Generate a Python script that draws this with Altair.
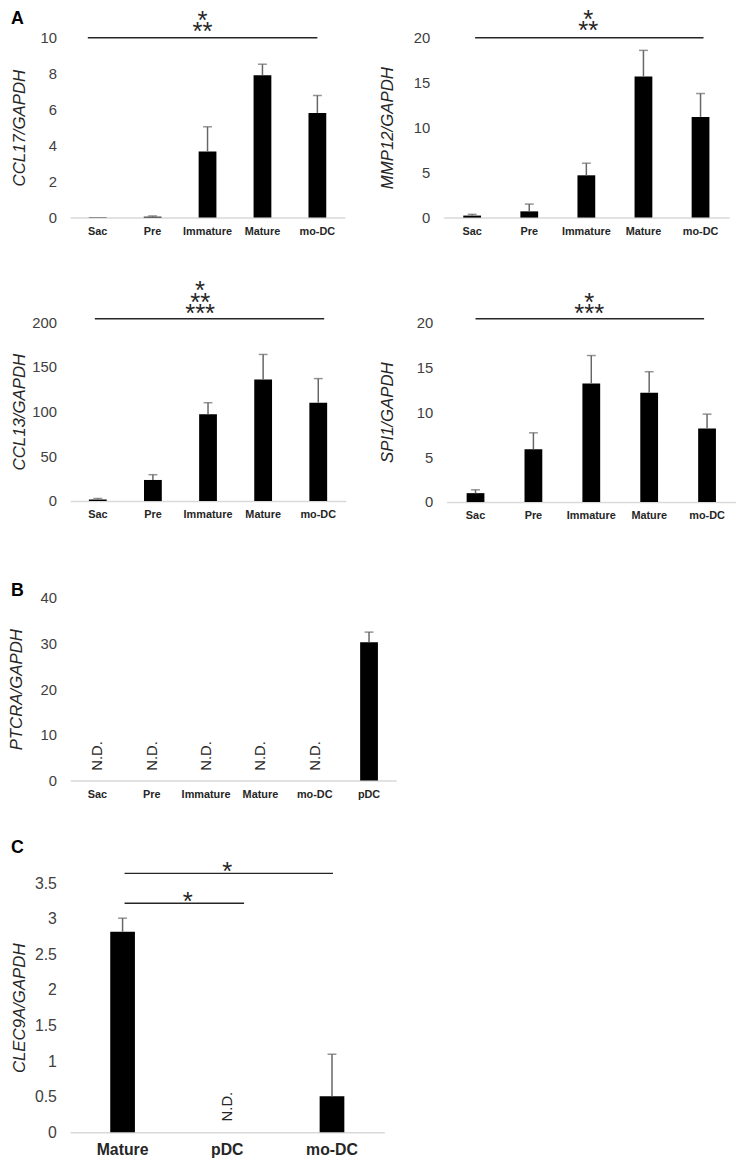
import altair as alt
import pandas as pd

FONT = "Liberation Sans"

# ---------------- data ----------------
cats_A = ["Sac", "Pre", "Immature", "Mature", "mo-DC"]
ccl17_mean = [0.02, 0.05, 3.67, 7.91, 5.82]
ccl17_err = [0.0, 0.04, 1.38, 0.62, 0.97]
mmp12_mean = [0.22, 0.69, 4.70, 15.70, 11.20]
mmp12_err = [0.14, 0.81, 1.35, 2.90, 2.60]
ccl13_mean = [1.8, 23.6, 97.2, 136.0, 110.0]
ccl13_err = [1.2, 5.9, 12.8, 28.0, 27.0]
spi1_mean = [0.99, 5.86, 13.20, 12.16, 8.17]
spi1_err = [0.37, 1.84, 3.10, 2.34, 1.61]

cats_B = ["Sac", "Pre", "Immature", "Mature", "mo-DC", "pDC"]
ptcra_mean = [None, None, None, None, None, 30.3]
ptcra_err = [None, None, None, None, None, 2.2]

cats_C = ["Mature", "pDC", "mo-DC"]
clec9a_mean = [2.82, None, 0.507]
clec9a_err = [0.19, None, 0.59]

ticks_A1 = [0, 2, 4, 6, 8, 10]
ticks_A2 = [0, 5, 10, 15, 20]
ticks_A3 = [0, 50, 100, 150, 200]
ticks_A4 = [0, 5, 10, 15, 20]
ticks_B = [0, 10, 20, 30, 40]
ticks_C = [0, 0.5, 1, 1.5, 2, 2.5, 3, 3.5]

# significance brackets: (start, end, level)
sig_A1 = [("Sac", "mo-DC", 10.0)]
sig_A2 = [("Sac", "mo-DC", 20.0)]
sig_A3 = [("Sac", "mo-DC", 204.0)]
sig_A4 = [("Sac", "mo-DC", 20.4)]
sig_C = [("Mature", "mo-DC", 3.64), ("Mature", "pDC", 3.22)]
# star labels: (category, level, lines top->bottom)
stars_A1 = [("Immature", 10.0, ["*", "**"])]
stars_A2 = [("Immature", 20.0, ["*", "**"])]
stars_A3 = [("Immature", 204.0, ["*", "**", "***"])]
stars_A4 = [("Immature", 20.4, ["", "*", "***"])]
stars_C = [("pDC", 3.64, ["*"]), ("pDC", 3.22, ["*"])]


def panel(cats, means, errs, ytitle, ymax, yticks, W, H, title_x,
          sigs, sig_offsets, stars, star_dx, star_gap,
          letter=None, letter_y=0, xlab_size=11, ylab_size=15,
          xlab_pad=8, bar_w=18, nd_dx=10, yfmt=None):
    upper = [None if m is None else m + e for m, e in zip(means, errs)]
    df = pd.DataFrame({"cat": cats, "mean": means, "upper": upper,
                       "zero": [0] * len(cats)})
    sx = alt.Scale(domain=cats, paddingInner=0, paddingOuter=0)
    ax = alt.Axis(title=None, labelAngle=0, labelFontSize=xlab_size,
                  labelFontWeight="bold", labelColor="#262626",
                  labelPadding=xlab_pad, domainColor="#d9d9d9",
                  domainWidth=1.5, ticks=False, grid=False, labelFont=FONT)
    sy = alt.Scale(domain=[0, ymax], nice=False, zero=True)
    ykw = dict(values=yticks, title=ytitle, titleFontStyle="italic",
               titleFontWeight="normal", titleFontSize=17,
               titleColor="#262626", titleX=title_x, titleY=H / 2,
               titleAngle=270, titleAlign="center", titleBaseline="middle",
               titleFont=FONT, labelFont=FONT, labelFontSize=ylab_size,
               labelColor="#404040", labelPadding=14, domain=False,
               ticks=False, grid=False)
    if yfmt:
        ykw["format"] = yfmt
    ay = alt.Axis(**ykw)

    def X(f):
        return alt.X(f"{f}:N", scale=sx, axis=ax)

    def Y(f):
        return alt.Y(f"{f}:Q", scale=sy, axis=ay)

    base = alt.Chart(df)
    has_err = "datum.upper != null && datum.upper > datum.mean"
    layers = [
        base.transform_filter("datum.mean != null")
        .mark_bar(color="black", width=bar_w)
        .encode(x=X("cat"), y=Y("mean")),
        base.transform_filter(has_err)
        .mark_rule(color="#666666", strokeWidth=1.5)
        .encode(x=X("cat"), y=Y("mean"), y2=alt.Y2("upper:Q")),
        base.transform_filter(has_err)
        .mark_tick(color="#666666", thickness=1.5, size=9)
        .encode(x=X("cat"), y=Y("upper")),
        base.transform_filter("datum.mean == null")
        .mark_text(text="N.D.", angle=270, align="left", baseline="middle",
                   dx=nd_dx, fontSize=15, color="#262626", font=FONT)
        .encode(x=X("cat"), y=Y("zero")),
    ]
    for (s, e, lv), (o1, o2) in zip(sigs, sig_offsets):
        d = pd.DataFrame({"start": [s], "end": [e], "level": [lv]})
        layers.append(
            alt.Chart(d).mark_rule(color="#262626", strokeWidth=1.5,
                                   xOffset=o1, x2Offset=o2)
            .encode(x=X("start"), x2=alt.X2("end:N"), y=Y("level")))
    LH = 11.5
    for (c, lv, lines), sdx, gap in zip(stars, star_dx, star_gap):
        d = pd.DataFrame({"cat": [c], "level": [lv]})
        n = len(lines)
        txt = lines if n > 1 else lines[0]
        dy = -gap - 8.5 - (n - 1) * LH
        layers.append(
            alt.Chart(d).mark_text(text=txt, lineHeight=LH,
                                   fontSize=26, dx=sdx, dy=dy,
                                   baseline="top", align="center",
                                   color="#262626", font=FONT)
            .encode(x=X("cat"), y=Y("level")))
    if letter:
        d = pd.DataFrame({"t": [letter]})
        layers.append(
            alt.Chart(d).mark_text(fontSize=18, fontWeight="bold",
                                   align="left", baseline="middle",
                                   color="black", font=FONT)
            .encode(x=alt.value(-60), y=alt.value(letter_y), text="t:N"))
    return alt.layer(*layers).properties(width=W, height=H)


A1 = panel(cats_A, ccl17_mean, ccl17_err, "CCL17/GAPDH", 10, ticks_A1,
           278, 182, -51, sig_A1, [(-10, 0)], stars_A1, [-5], [10],
           letter="A", letter_y=-19)
A2 = panel(cats_A, mmp12_mean, mmp12_err, "MMP12/GAPDH", 20, ticks_A2,
           289, 182, -57, sig_A2, [(3, 3)], stars_A2, [2], [11])
A3 = panel(cats_A, ccl13_mean, ccl13_err, "CCL13/GAPDH", 200, ticks_A3,
           279, 181, -51, sig_A3, [(-3, 6)], stars_A3, [-8], [9])
A4 = panel(cats_A, spi1_mean, spi1_err, "SPI1/GAPDH", 20, ticks_A4,
           293, 182, -60, sig_A4, [(0, -3)], stars_A4, [-2], [9])
B = panel(cats_B, ptcra_mean, ptcra_err, "PTCRA/GAPDH", 40, ticks_B,
          330, 185, -54, [], [], [], [], [],
          letter="B", letter_y=-7, xlab_pad=8, nd_dx=10)
C = panel(cats_C, clec9a_mean, clec9a_err, "CLEC9A/GAPDH", 3.5, ticks_C,
          318, 252, -51, sig_C, [(2, 1), (2, 17)], stars_C, [0, -40],
          [6, 6], letter="C", letter_y=-36, xlab_size=16,
          ylab_size=16, xlab_pad=10, bar_w=25, nd_dx=11, yfmt="~g")

row1 = alt.hconcat(A1, A2, spacing=34)
row2 = alt.hconcat(A3, A4, spacing=33)
top = alt.vconcat(row1, row2, spacing=42)
lower = alt.vconcat(B, C, spacing=40)
chart = alt.vconcat(top, lower, spacing=62).properties(
    padding={"left": 0, "top": -8, "right": 0, "bottom": 0})
chart = chart.configure(font=FONT).configure_view(stroke=None)

chart.save("out.html", embed_options={"renderer": "svg", "actions": False})
